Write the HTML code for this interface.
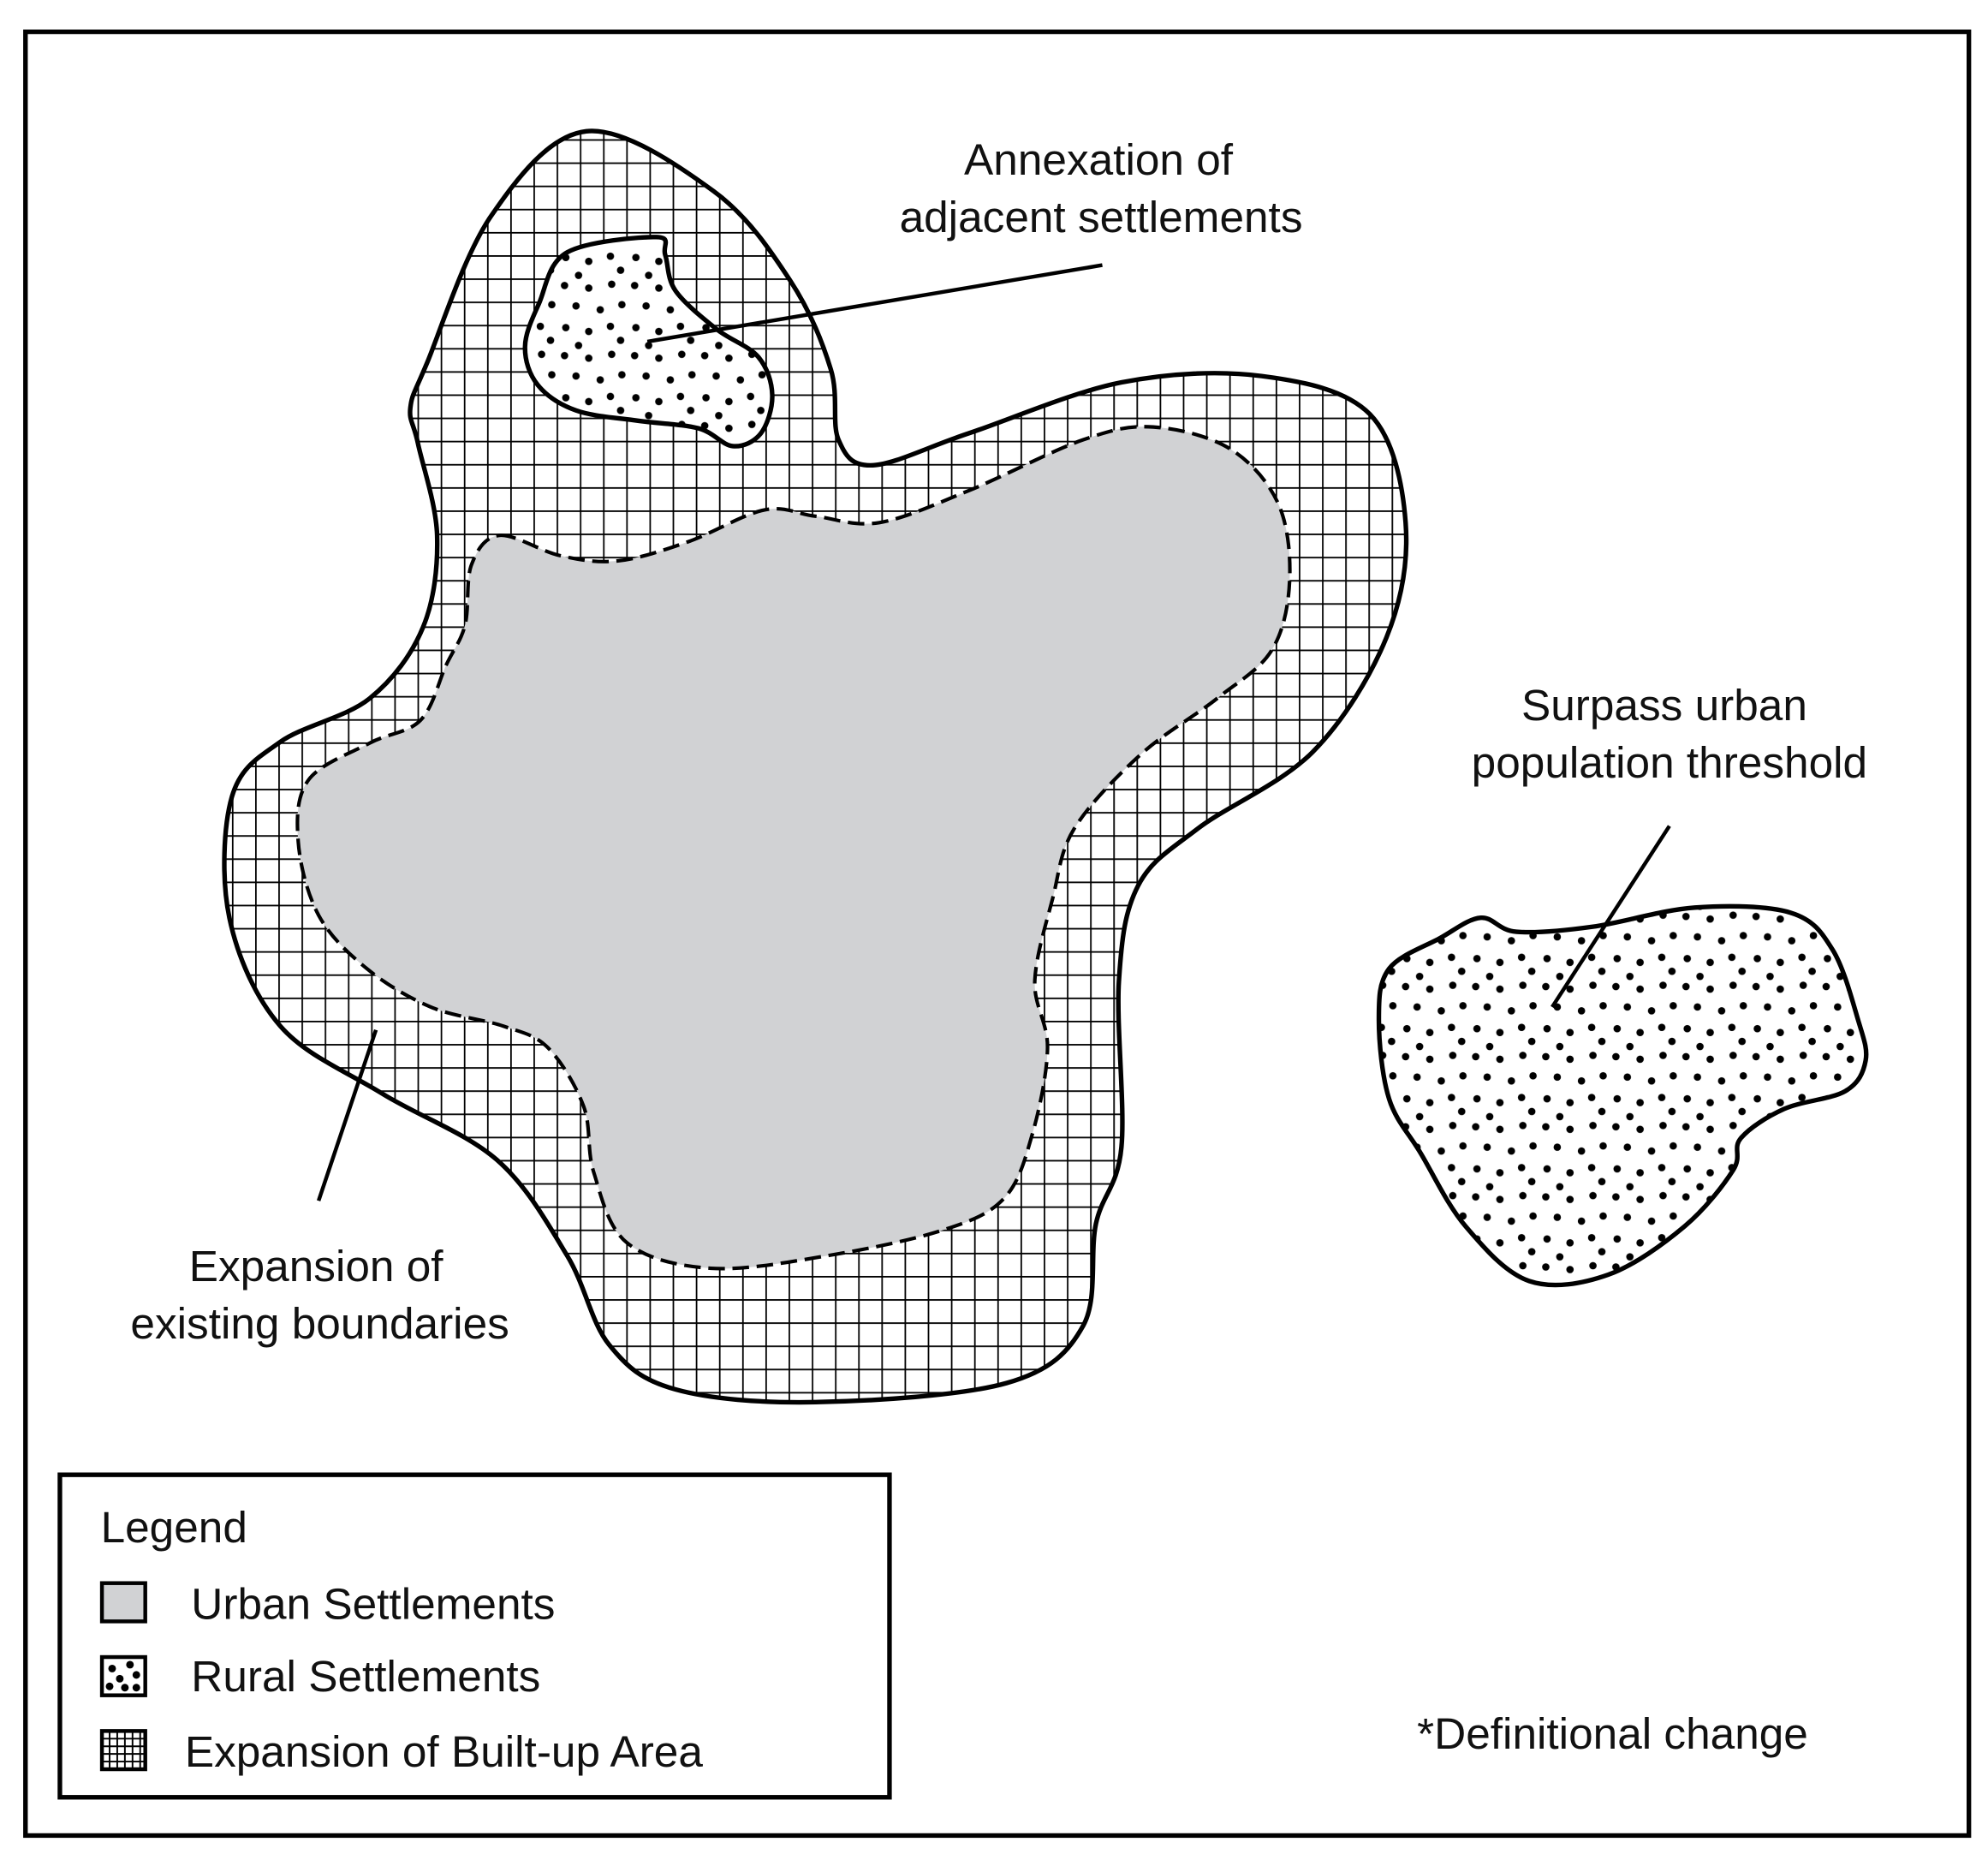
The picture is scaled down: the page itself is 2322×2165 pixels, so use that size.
<!DOCTYPE html>
<html><head><meta charset="utf-8">
<style>
html,body{margin:0;padding:0;background:#fff;}
svg{display:block;}
text{font-family:"Liberation Sans",sans-serif;font-size:34.5px;fill:#111;}
</style></head>
<body>
<svg id="s" width="2322" height="2165" viewBox="0 0 1560 1454.5" preserveAspectRatio="none" xmlns="http://www.w3.org/2000/svg">
<defs>
<pattern id="grid" width="18.2" height="18.2" patternUnits="userSpaceOnUse">
<path d="M0 0H18.2M0 0V18.2" stroke="#000" stroke-width="2.4" fill="none"/>
</pattern>
<pattern id="dots" width="55" height="55" patternUnits="userSpaceOnUse">
<rect width="55" height="55" fill="#fff"/>
<g fill="#000">
<circle cx="3" cy="4" r="2.9"/><circle cx="22" cy="6" r="2.9"/><circle cx="40" cy="3" r="2.9"/>
<circle cx="12" cy="20" r="2.9"/><circle cx="31" cy="23" r="2.9"/><circle cx="48" cy="19" r="2.9"/>
<circle cx="4" cy="37" r="2.9"/><circle cx="22" cy="40" r="2.9"/><circle cx="39" cy="36" r="2.9"/>
<circle cx="14" cy="51" r="2.9"/><circle cx="47" cy="47" r="2.9"/>
</g>
</pattern>
</defs>
<rect x="20" y="25" width="1525" height="1415" fill="#fff" stroke="#000" stroke-width="3.6"/>

<path id="outer" fill="url(#grid)" stroke="#000" stroke-width="3.6"/>
<path id="urban" fill="#d1d2d4" stroke="#000" stroke-width="2.8" stroke-dasharray="13 6"/>
<path id="small" fill="url(#dots)" stroke="#000" stroke-width="3.6"/>
<path id="right" fill="url(#dots)" stroke="#000" stroke-width="3.6"/>

<g stroke="#000" stroke-width="3" fill="none">
<line x1="865" y1="208" x2="508" y2="268"/>
<line x1="1310" y1="648" x2="1218" y2="790"/>
<line x1="295" y1="808" x2="250" y2="942"/>
</g>

<text x="862" y="137" text-anchor="middle">Annexation of</text>
<text x="864" y="182" text-anchor="middle">adjacent settlements</text>
<text x="1306" y="565" text-anchor="middle">Surpass urban</text>
<text x="1310" y="610" text-anchor="middle">population threshold</text>
<text x="248" y="1005" text-anchor="middle">Expansion of</text>
<text x="251" y="1050" text-anchor="middle">existing boundaries</text>
<text x="1112" y="1372">*Definitional change</text>

<rect x="47" y="1157" width="651" height="253" fill="#fff" stroke="#000" stroke-width="3.6"/>
<text x="79" y="1210">Legend</text>
<rect x="80" y="1242" width="34" height="30" fill="#d1d2d4" stroke="#000" stroke-width="3"/>
<text x="150" y="1270">Urban Settlements</text>
<rect x="80" y="1300" width="34" height="30" fill="#fff" stroke="#000" stroke-width="3"/>
<g fill="#000"><circle cx="88" cy="1309" r="3"/><circle cx="102" cy="1306" r="3"/><circle cx="107" cy="1314" r="3"/><circle cx="94" cy="1317" r="3"/><circle cx="86" cy="1323" r="3"/><circle cx="98" cy="1324" r="3"/><circle cx="107" cy="1324" r="3"/></g>
<text x="150" y="1327">Rural Settlements</text>
<rect x="80" y="1358" width="34" height="30" fill="#fff" stroke="#000" stroke-width="3"/>
<path d="M86 1358V1388M92 1358V1388M98 1358V1388M104 1358V1388M110 1358V1388M80 1364H114M80 1370H114M80 1376H114M80 1382H114" stroke="#000" stroke-width="1.3"/>
<text x="145" y="1386">Expansion of Built-up Area</text>
</svg>
<script>
function smooth(p){
  var n=p.length,d="M"+p[0][0]+" "+p[0][1];
  for(var i=0;i<n;i++){
    var p0=p[(i-1+n)%n],p1=p[i],p2=p[(i+1)%n],p3=p[(i+2)%n];
    var c1x=p1[0]+(p2[0]-p0[0])/6,c1y=p1[1]+(p2[1]-p0[1])/6;
    var c2x=p2[0]-(p3[0]-p1[0])/6,c2y=p2[1]-(p3[1]-p1[1])/6;
    d+="C"+c1x.toFixed(1)+" "+c1y.toFixed(1)+" "+c2x.toFixed(1)+" "+c2y.toFixed(1)+" "+p2[0]+" "+p2[1];
  }
  return d+"Z";
}
var outer=[[460,103],[560,150],[620,220],[652,290],[658,345],[685,365],[760,340],[880,300],[990,295],[1075,325],[1103,410],[1088,500],[1030,590],[940,650],[893,695],[878,770],[880,900],[860,960],[850,1040],[790,1085],[640,1100],[530,1090],[478,1055],[445,985],[390,910],[300,858],[220,805],[180,720],[182,625],[220,582],[290,548],[332,492],[343,420],[328,348],[322,320],[335,285],[385,170]];
var urban=[[392,420],[440,436],[485,440],[540,425],[600,400],[640,405],[690,410],[760,385],[850,345],[905,335],[965,352],[1003,395],[1012,455],[998,510],[955,548],[895,592],[843,650],[826,705],[812,770],[822,822],[810,890],[788,940],[740,965],[650,985],[558,995],[492,975],[466,920],[458,868],[430,822],[395,805],[338,790],[288,760],[250,718],[234,660],[242,612],[290,583],[330,565],[350,522],[365,490],[370,443]];
var small=[[445,198],[515,186],[522,200],[530,228],[562,258],[595,280],[606,310],[597,340],[575,350],[548,336],[500,330],[452,322],[422,302],[412,272],[423,238]];
var right=[[1130,736],[1162,720],[1190,731],[1250,727],[1330,712],[1405,716],[1438,745],[1458,800],[1464,832],[1448,856],[1400,870],[1366,893],[1360,918],[1322,962],[1262,1000],[1200,1005],[1150,962],[1115,905],[1090,862],[1082,800],[1090,760]];
document.getElementById("outer").setAttribute("d",smooth(outer));
document.getElementById("urban").setAttribute("d",smooth(urban));
document.getElementById("small").setAttribute("d",smooth(small));
document.getElementById("right").setAttribute("d",smooth(right));
</script>
</body></html>
